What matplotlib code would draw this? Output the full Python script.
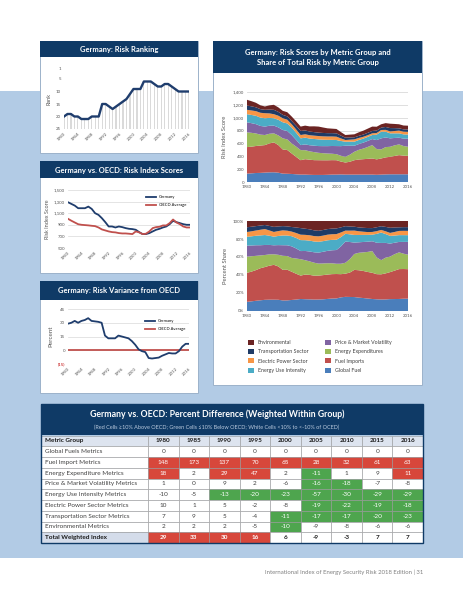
import numpy as np
import matplotlib.pyplot as plt
from matplotlib.patches import Rectangle
from matplotlib.ticker import FuncFormatter

plt.rcParams['font.family'] = ['Lato', 'DejaVu Sans']

W, H = 463, 599

# ---- data ----
years = list(range(1980, 2017))

rank = [20, 19, 19, 20, 20, 21, 21, 21, 20, 20, 20, 15, 15, 16, 17, 16, 15, 14, 13, 11,
        9, 9, 9, 6, 6, 6, 7, 8, 8, 7, 7, 8, 9, 10, 10, 10, 10]

germany_score = [1289, 1260, 1231, 1186, 1186, 1186, 1214, 1174, 1100, 1071, 1014, 946, 871,
                 871, 854, 871, 860, 843, 831, 826, 814, 774, 740, 740, 757, 786, 814, 831,
                 854, 871, 911, 969, 946, 929, 911, 900, 900]
oecd_score = [1003, 970, 940, 910, 900, 895, 890, 883, 877, 854, 820, 803, 786, 774, 769, 757,
              751, 751, 746, 740, 786, 769, 740, 746, 786, 843, 860, 866, 889, 889, 929, 991,
              940, 911, 871, 854, 854]

variance = [29, 30, 32, 30, 32, 33, 35, 32, 31.5, 31, 30, 16, 13, 13, 13, 16, 15, 14, 13, 10,
            6, 1, -1, -2, -8.5, -9, -8.5, -8, -6, -4.5, -3, -3.5, -3.5, -1, 4, 7, 7]

global_fuel = [130, 135, 140, 142, 146, 150, 151, 145, 130, 128, 125, 120, 115, 115, 112, 110,
               110, 110, 112, 115, 115, 118, 115, 115, 115, 115, 115, 115, 115, 112, 115, 118,
               120, 120, 120, 120, 120]
fuel_imports = [413, 415, 420, 425, 428, 450, 465, 430, 376, 370, 319, 270, 224, 240, 235, 230,
                229, 228, 226, 225, 224, 200, 188, 200, 224, 235, 240, 245, 251, 240, 251, 265,
                272, 285, 298, 290, 287]
energy_expend = [230, 215, 195, 170, 157, 150, 141, 150, 173, 165, 156, 160, 157, 140, 130, 125,
                 115, 110, 105, 100, 94, 90, 89, 110, 131, 150, 165, 185, 208, 160, 141, 160,
                 156, 165, 167, 150, 141]
price_volatility = [156, 150, 145, 135, 131, 125, 120, 125, 130, 130, 131, 105, 78, 90, 95, 100,
                    105, 110, 115, 120, 126, 150, 172, 140, 94, 90, 92, 94, 94, 140, 172, 150,
                    131, 115, 104, 115, 125]
energy_intensity = [126, 128, 130, 130, 130, 122, 115, 118, 120, 118, 115, 110, 105, 105, 104, 104,
                    104, 100, 98, 96, 94, 80, 63, 63, 63, 63, 63, 63, 63, 85, 104, 90,
                    78, 72, 68, 66, 65]
electric_power = [68, 70, 72, 75, 78, 70, 63, 63, 63, 58, 52, 52, 52, 52, 52, 52, 52, 52, 52, 52,
                  52, 40, 26, 30, 36, 32, 28, 26, 26, 26, 26, 28, 30, 36, 42, 42, 42]
transportation = [67, 64, 60, 56, 53, 60, 68, 60, 52, 52, 52, 58, 63, 60, 57, 55, 53, 53, 52, 52,
                  52, 44, 36, 34, 32, 33, 35, 37, 37, 37, 37, 45, 52, 45, 36, 36, 36]
environmental = [89, 80, 70, 60, 52, 65, 78, 70, 63, 65, 68, 68, 68, 75, 80, 90, 94, 85, 75, 70,
                 68, 55, 42, 45, 47, 55, 60, 65, 68, 60, 52, 60, 68, 65, 63, 60, 60]

group_names = ['Global Fuel', 'Fuel Imports', 'Energy Expenditures', 'Price & Market Volatility',
               'Energy Use Intensity', 'Electric Power Sector', 'Transportation Sector',
               'Environmental']
group_colors = ['#4a7ebb', '#c0504d', '#9bbb59', '#8064a2', '#4bacc6', '#f79646', '#1f3b66',
                '#6b2423']

table_years = ['1980', '1985', '1990', '1995', '2000', '2005', '2010', '2015', '2016']
metric_groups = ['Global Fuels Metrics', 'Fuel Import Metrics', 'Energy Expenditure Metrics',
                 'Price & Market Volatility Metrics', 'Energy Use Intensity Metrics',
                 'Electric Power Sector Metrics', 'Transportation Sector Metrics',
                 'Environmental Metrics', 'Total Weighted Index']
pct_diff = [
    [0, 0, 0, 0, 0, 0, 0, 0, 0],
    [148, 173, 137, 70, 65, 28, 32, 61, 63],
    [18, 2, 29, 47, 2, -11, 1, 9, 11],
    [1, 0, 9, 2, -6, -16, -18, -7, -8],
    [-9.6, -5, -13, -20, -23, -57, -30, -29, -29],
    [9.6, 1, 5, -2, -8, -19, -22, -19, -18],
    [7, 9, 5, -4, -11, -17, -17, -20, -23],
    [2, 2, 2, -5, -10.2, -9, -8, -6, -6],
    [29, 33, 30, 16, 6, -9, -3, 7, 7],
]

NAVY = '#0f3a66'
BAND = '#b2cbe5'
EDGE = '#9cb2ca'
GER = '#1f3d6d'
OECD = '#c0504d'
RED = '#d7473b'
GREEN = '#4ea54e'
TXT = '#404040'

fig = plt.figure(figsize=(W / 100, H / 100), dpi=100)
bg = fig.add_axes([0, 0, 1, 1])
bg.set_xlim(0, W)
bg.set_ylim(H, 0)
bg.axis('off')


def rect(x0, y0, x1, y1, **kw):
    bg.add_patch(Rectangle((x0, y0), x1 - x0, y1 - y0, **kw))


def panel(x0, y0, x1, y1, hdr, title):
    rect(x0, y0, x1, y1, facecolor='white', edgecolor=EDGE, lw=0.7)
    rect(x0, y0, x1, hdr, facecolor=NAVY, lw=0)
    bg.text((x0 + x1) / 2, (y0 + hdr) / 2 + 0.5, title, color='white', fontsize=5.5,
            fontweight='bold', ha='center', va='center', linespacing=1.5)


def add_ax(x0, y0, x1, y1):
    return fig.add_axes([x0 / W, 1 - y1 / H, (x1 - x0) / W, (y1 - y0) / H])


def small_axes(ax, rot=True):
    for s in ax.spines.values():
        s.set_visible(False)
    ax.tick_params(length=0, labelsize=3.2, labelcolor='#555555', pad=2)
    ax.set_xlim(1980, 2016)
    ax.set_xticks(range(1980, 2017, 4))
    if rot:
        for lab in ax.get_xticklabels():
            lab.set_rotation(45)
            lab.set_ha('right')
            lab.set_rotation_mode('anchor')


rect(0, 91, W, 558, facecolor=BAND, lw=0)

panel(40, 41, 198, 153, 57, 'Germany: Risk Ranking')
panel(40, 161, 198, 273, 178, 'Germany vs. OECD: Risk Index Scores')
panel(40, 281, 198, 393, 300, 'Germany: Risk Variance from OECD')
panel(213, 41, 422, 385, 73, 'Germany: Risk Scores by Metric Group and\nShare of Total Risk by Metric Group')

# ---- risk ranking ----
ax1 = add_ax(64, 69, 189, 129)
ax1.bar(years, [25 - r for r in rank], bottom=rank, width=0.35, color='#dadada', zorder=1)
ax1.plot(years, rank, color=GER, lw=1.7, zorder=3)
ax1.set_ylim(25, 1)
ax1.set_yticks([1, 5, 10, 15, 20, 25])
small_axes(ax1)
ax1.set_ylabel('Rank', fontsize=4, color='#555555', labelpad=3)

# ---- risk index scores ----
ax2 = add_ax(68, 190, 190, 248)
ax2.plot(years, germany_score, color=GER, lw=1.3, label='Germany', zorder=3)
ax2.plot(years, oecd_score, color=OECD, lw=1.3, label='OECD Average', zorder=3)
ax2.set_ylim(500, 1500)
ax2.set_yticks(range(500, 1501, 200))
ax2.yaxis.set_major_formatter(FuncFormatter(lambda v, p: f'{v:,.0f}'))
ax2.grid(axis='y', color='#d9d9d9', lw=0.5)
ax2.set_axisbelow(True)
small_axes(ax2)
ax2.set_ylabel('Risk Index Score', fontsize=4, color='#555555', labelpad=3)
ax2.legend(loc='upper right', bbox_to_anchor=(1.0, 0.97), fontsize=3, frameon=False,
           handlelength=2.2, labelspacing=0.9)

# ---- risk variance ----
ax3 = add_ax(68, 309, 189, 364)
ax3.plot(years, variance, color=GER, lw=1.3, label='Germany', zorder=3)
ax3.axhline(0, color=OECD, lw=1.3, label='OECD Average', zorder=2)
ax3.set_ylim(-15, 45)
ax3.set_yticks([-15, 0, 15, 30, 45])
ax3.yaxis.set_major_formatter(FuncFormatter(lambda v, p: f'({abs(v):.0f})' if v < 0 else f'{v:.0f}'))
ax3.grid(axis='y', color='#d9d9d9', lw=0.5)
ax3.set_axisbelow(True)
small_axes(ax3)
ax3.get_yticklabels()[0].set_color('#c00000')
ax3.set_ylabel('Percent', fontsize=4.5, color='#555555', labelpad=3)
ax3.legend(loc='upper right', bbox_to_anchor=(1.0, 0.88), fontsize=3, frameon=False,
           handlelength=2.2, labelspacing=0.9)

# ---- stacked scores ----
stacks = [global_fuel, fuel_imports, energy_expend, price_volatility, energy_intensity,
          electric_power, transportation, environmental]
ax4 = add_ax(247, 92, 408, 182)
polys = ax4.stackplot(years, *stacks, colors=group_colors, lw=0)
ax4.set_ylim(0, 1400)
ax4.set_yticks(range(0, 1401, 200))
ax4.yaxis.set_major_formatter(FuncFormatter(lambda v, p: f'{v:,.0f}'))
ax4.grid(axis='y', color='#d9d9d9', lw=0.6)
ax4.set_axisbelow(True)
small_axes(ax4, rot=False)
ax4.set_ylabel('Risk Index Score', fontsize=4.2, color='#555555', labelpad=4)

# ---- percent share ----
arr = np.array(stacks, dtype=float)
share = arr / arr.sum(axis=0) * 100
ax5 = add_ax(247, 221, 408, 311)
ax5.stackplot(years, *share, colors=group_colors, lw=0)
ax5.set_ylim(0, 100)
ax5.set_yticks(range(0, 101, 20))
ax5.yaxis.set_major_formatter(FuncFormatter(lambda v, p: f'{v:.0f}%'))
small_axes(ax5, rot=False)
ax5.set_ylabel('Percent Share', fontsize=4.2, color='#555555', labelpad=4)

handles = polys[::-1]
labels = group_names[::-1]
fig.legend(handles, labels, loc='upper left', bbox_to_anchor=(243 / W, 1 - 335 / H), ncol=2,
           fontsize=3.8, frameon=False, handlelength=1.1, handleheight=1.1,
           labelspacing=0.75, columnspacing=3.2, handletextpad=0.8, labelcolor='#404040')

# ---- table ----
tx0, tx1 = 41, 423
rect(tx0, 404, tx1, 435, facecolor=NAVY, lw=0)
bg.text(217, 414.5, 'Germany vs. OECD: Percent Difference (Weighted Within Group)', color='white',
        fontsize=6.3, fontweight='bold', ha='center', va='center')
bg.text(217, 427, '(Red Cells \u226510% Above OECD; Green Cells \u226410% Below OECD; '
        'White Cells <10% to <-10% of OCED)', color='#b9c9dd', fontsize=4.0,
        ha='center', va='center')

row_h = 10.75
y0 = 435.5
c0 = 148
cw = (tx1 - c0) / len(table_years)

rect(tx0, y0, c0, y0 + row_h, facecolor='#dde4ef', edgecolor='#9a9a9a', lw=0.4)
bg.text(tx0 + 4, y0 + row_h / 2, 'Metric Group', fontsize=4.6, fontweight='bold', color='#1a1a1a',
        ha='left', va='center')
for j, yr in enumerate(table_years):
    x = c0 + j * cw
    rect(x, y0, x + cw, y0 + row_h, facecolor='#dde4ef', edgecolor='#9a9a9a', lw=0.4)
    bg.text(x + cw / 2, y0 + row_h / 2, yr, fontsize=4.6, fontweight='bold', color='#1a1a1a',
            ha='center', va='center')

for i, name in enumerate(metric_groups):
    y = y0 + (i + 1) * row_h
    total = name == 'Total Weighted Index'
    rect(tx0, y, c0, y + row_h, facecolor='#d4dcea' if total else 'white',
         edgecolor='#9a9a9a', lw=0.4)
    bg.text(tx0 + 4, y + row_h / 2, name, fontsize=4.6, color='#1a1a1a' if total else TXT,
            fontweight='bold' if total else 'normal', ha='left', va='center')
    for j, v in enumerate(pct_diff[i]):
        x = c0 + j * cw
        if v >= 10:
            fc, tc = RED, 'white'
        elif v <= -10:
            fc, tc = GREEN, 'white'
        else:
            fc, tc = 'white', '#1a1a1a' if total else TXT
        rect(x, y, x + cw, y + row_h, facecolor=fc, edgecolor='#9a9a9a', lw=0.4)
        bg.text(x + cw / 2, y + row_h / 2, f'{v:.0f}', fontsize=4.6, color=tc,
                fontweight='bold' if total else 'normal', ha='center', va='center')

y_end = y0 + (len(metric_groups) + 1) * row_h
rect(tx0, 404, tx1, y_end, facecolor='none', edgecolor=NAVY, lw=1.0)

bg.text(423, 572, 'International Index of Energy Security Risk 2018 Edition | 31', fontsize=4.3,
        color='#808080', ha='right', va='center')

fig.savefig('out.png', dpi=100)
